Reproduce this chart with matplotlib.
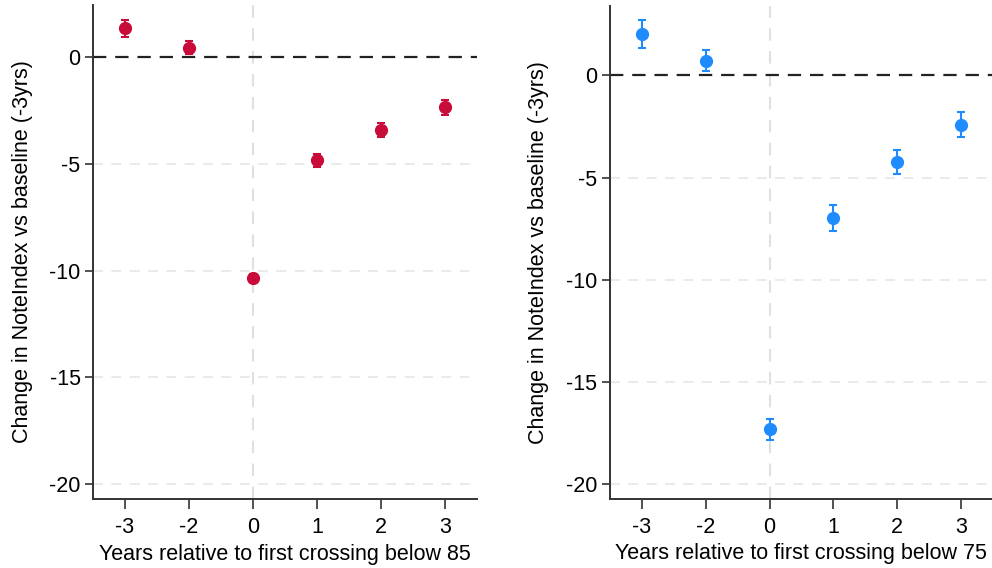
"""Event-study coefficients: NoteIndex change around first threshold crossing."""

import matplotlib

matplotlib.use("Agg")
import matplotlib.pyplot as plt
import numpy as np

plt.rcParams["font.family"] = ["Liberation Sans", "DejaVu Sans"]

years = ["-3", "-2", "0", "1", "2", "3"]

# threshold 85
coef_85 = [1.36, 0.45, -10.35, -4.83, -3.40, -2.34]
err_85 = [0.41, 0.29, 0.20, 0.30, 0.32, 0.36]

# threshold 75
coef_75 = [2.03, 0.71, -17.30, -6.98, -4.25, -2.43]
err_75 = [0.68, 0.52, 0.51, 0.62, 0.60, 0.61]

panels = [
    (coef_85, err_85, "#C90B3A", "85", (-20.7, 2.45)),
    (coef_75, err_75, "#1E8CFF", "75", (-20.7, 3.4)),
]

fig = plt.figure(figsize=(9.92, 5.68), dpi=100)
axes = [
    fig.add_axes([0.0938, 0.1215, 0.387, 0.8697]),
    fig.add_axes([0.6149, 0.122, 0.386, 0.868]),
]

pos = np.arange(len(years))
zero_pos = years.index("0")
fs = 15.5

for ax, (coef, err, color, thresh, ylim) in zip(axes, panels):
    for y in [-20, -15, -10, -5]:
        ax.axhline(y, color="#e6e6e6", lw=1.2, ls=(0, (6, 5)), zorder=0)
    ax.axvline(zero_pos, color="#e0e0e0", lw=1.5, ls=(0, (6, 5)), zorder=0)
    ax.axhline(0, color="#222222", lw=1.6, ls=(0, (6, 4)), zorder=1)

    ax.errorbar(pos, coef, yerr=err, fmt="o", color=color, ms=8.5,
                elinewidth=1.5, capsize=3, capthick=1.5, zorder=3)

    ax.set_xlim(-0.5, len(years) - 0.5)
    ax.set_ylim(*ylim)
    ax.set_xticks(pos)
    ax.set_xticklabels(years)
    ax.set_yticks([0, -5, -10, -15, -20])
    ax.set_yticklabels(["0", "-5", "-10", "-15", "-20"])
    ax.tick_params(axis="both", labelsize=fs, color="#333333", width=1.2)
    ax.tick_params(axis="x", length=7, pad=6)
    ax.tick_params(axis="y", length=6, pad=3)

    for side in ["top", "right"]:
        ax.spines[side].set_visible(False)
    for side in ["left", "bottom"]:
        ax.spines[side].set_color("#333333")
        ax.spines[side].set_linewidth(1.4)

    ax.set_xlabel(f"Years relative to first crossing below {thresh}",
                  fontsize=fs, labelpad=4)
    ax.set_ylabel("Change in NoteIndex vs baseline (-3yrs)", fontsize=fs,
                  labelpad=12)

fig.savefig("out.png", dpi=100)
